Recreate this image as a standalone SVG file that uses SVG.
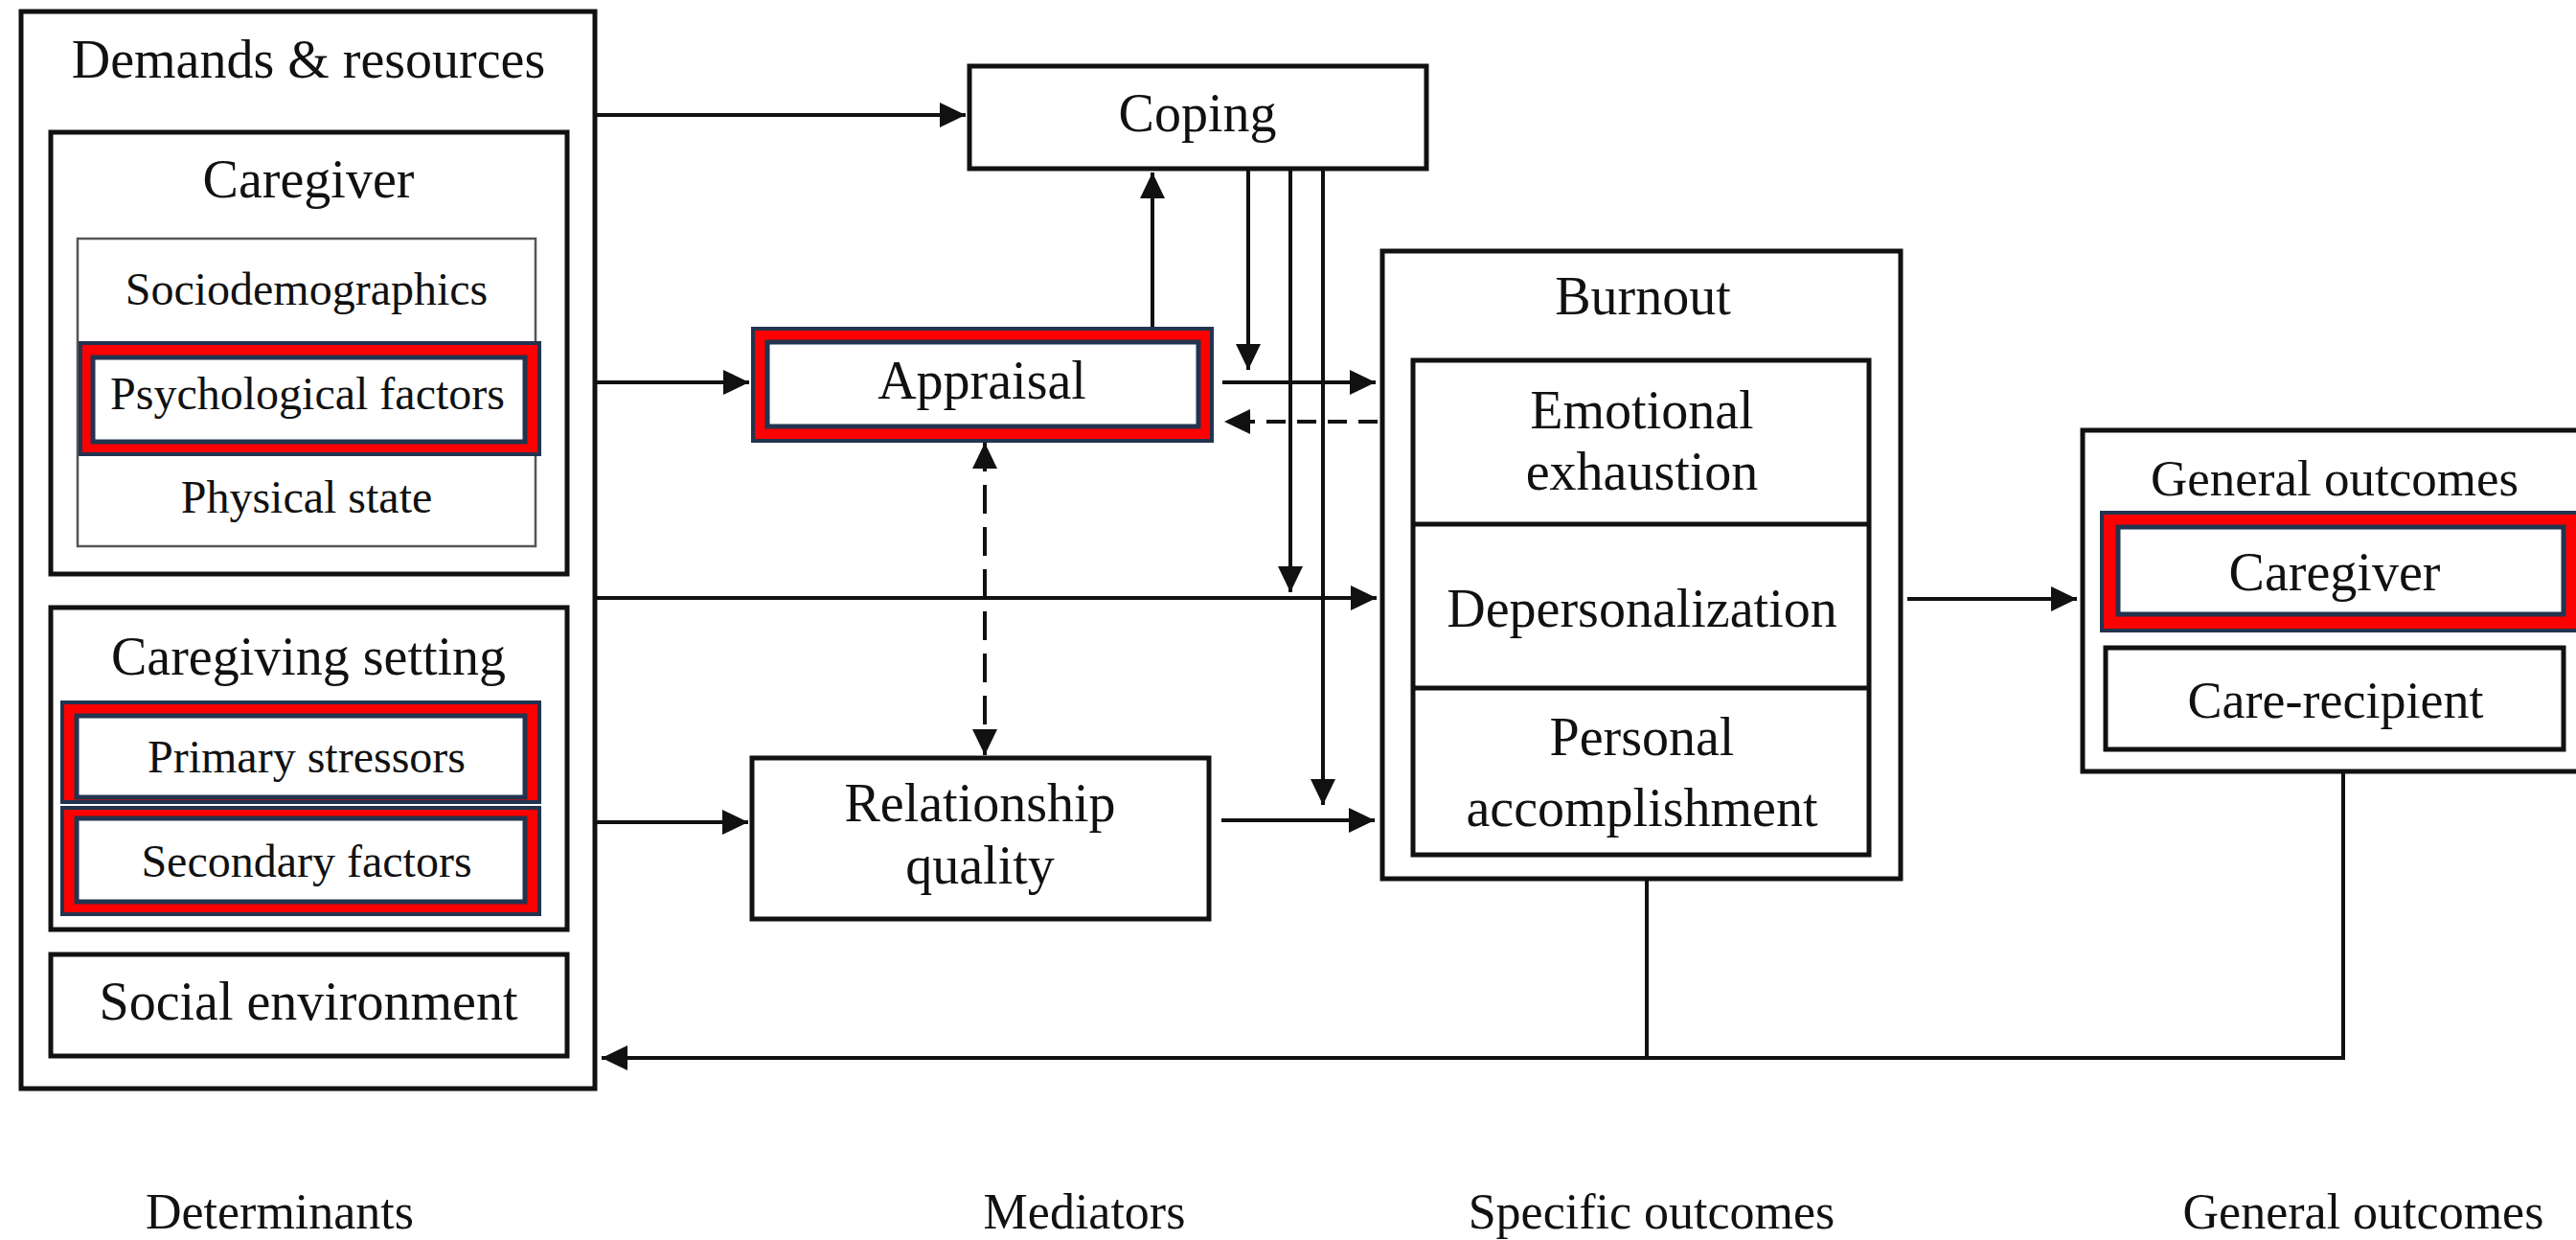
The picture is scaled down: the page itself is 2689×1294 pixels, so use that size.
<svg xmlns="http://www.w3.org/2000/svg" width="2689" height="1294" viewBox="0 0 2689 1294">
<defs>
<style>
.box{fill:#fff;stroke:#111;stroke-width:5}
.thin{fill:#fff;stroke:#555;stroke-width:2.5}
.hlo{fill:#ff0000;stroke:#22344f;stroke-width:4}
.hli{fill:#fff;stroke:#22344f;stroke-width:5}
.ln{fill:none;stroke:#111;stroke-width:4}
.dh{fill:none;stroke:#111;stroke-width:4;stroke-dasharray:20 12}
.dv{fill:none;stroke:#111;stroke-width:4;stroke-dasharray:30 14}
text{font-family:"Liberation Serif","Times New Roman",serif;fill:#111;text-anchor:middle}
.f56{font-size:56px}
.f54{font-size:54px}
.f53{font-size:53px}
.f52{font-size:52px}
.f48{font-size:48px}
</style>
<marker id="ah" markerUnits="userSpaceOnUse" markerWidth="27" markerHeight="26" refX="27" refY="13" orient="auto-start-reverse">
<path d="M0,0 L27,13 L0,26 Z" fill="#111"/>
</marker>
</defs>
<rect width="2689" height="1294" fill="#fff"/>

<g id="demands">
<rect class="box" x="22" y="12" width="599" height="1124"/>
<text class="f56" x="322" y="81">Demands &amp; resources</text>
</g>
<g id="caregiver">
<rect class="box" x="53" y="138" width="539" height="461"/>
<text class="f56" x="322" y="206">Caregiver</text>
</g>
<g id="caregiver-factors">
<rect class="thin" x="81" y="249" width="478" height="321"/>
<text class="f48" x="320" y="318">Sociodemographics</text>
<text class="f48" x="320" y="535">Physical state</text>
</g>
<g id="psychological">
<rect class="hlo" x="84" y="358" width="479" height="116"/>
<rect class="hli" x="97" y="373" width="451" height="88"/>
<text class="f48" x="321" y="427">Psychological factors</text>
</g>
<g id="caregiving-setting">
<rect class="box" x="53" y="634" width="539" height="336"/>
<text class="f56" x="322" y="704">Caregiving setting</text>
</g>
<g id="primary">
<rect class="hlo" x="65" y="733" width="498" height="104"/>
<rect class="hli" x="80" y="747" width="468" height="85"/>
<text class="f48" x="320" y="806">Primary stressors</text>
</g>
<g id="secondary">
<rect class="hlo" x="65" y="843" width="498" height="111"/>
<rect class="hli" x="80" y="854" width="468" height="87"/>
<text class="f48" x="320" y="915">Secondary factors</text>
</g>
<g id="social">
<rect class="box" x="53" y="996" width="539" height="106"/>
<text class="f56" x="322" y="1064">Social environment</text>
</g>

<g id="coping">
<rect class="box" x="1012" y="69" width="477" height="107"/>
<text class="f56" x="1250" y="137">Coping</text>
</g>
<g id="appraisal">
<rect class="hlo" x="786" y="343" width="479" height="117"/>
<rect class="hli" x="801" y="357" width="450" height="88"/>
<text class="f56" x="1025" y="416">Appraisal</text>
</g>
<g id="relationship">
<rect class="box" x="785" y="791" width="477" height="168"/>
<text class="f56" x="1023" y="857">Relationship</text>
<text class="f56" x="1023" y="922">quality</text>
</g>

<g id="burnout">
<rect class="box" x="1443" y="262" width="541" height="655"/>
<text class="f56" x="1715" y="328">Burnout</text>
<rect class="box" x="1475" y="376" width="476" height="516"/>
<line class="box" x1="1475" y1="547" x2="1951" y2="547"/>
<line class="box" x1="1475" y1="718" x2="1951" y2="718"/>
<text class="f56" x="1714" y="447">Emotional</text>
<text class="f56" x="1714" y="511">exhaustion</text>
<text class="f56" x="1714" y="654">Depersonalization</text>
<text class="f56" x="1714" y="788">Personal</text>
<text class="f56" x="1714" y="862">accomplishment</text>
</g>

<g id="general-outcomes">
<rect class="box" x="2174" y="449" width="600" height="356"/>
<text class="f53" x="2437" y="517">General outcomes</text>
</g>
<g id="go-caregiver">
<rect class="hlo" x="2194" y="535" width="520" height="123"/>
<rect class="hli" x="2211" y="550" width="465" height="91"/>
<text class="f56" x="2437" y="616">Caregiver</text>
</g>
<g id="care-recipient">
<rect class="box" x="2198" y="676" width="478" height="106"/>
<text class="f54" x="2438" y="749">Care-recipient</text>
</g>

<g id="connectors">
<path class="ln" d="M623,120 H1008" marker-end="url(#ah)"/>
<path class="ln" d="M623,399 H782" marker-end="url(#ah)"/>
<path class="ln" d="M623,624 H1437" marker-end="url(#ah)"/>
<path class="ln" d="M623,858 H781" marker-end="url(#ah)"/>
<path class="ln" d="M1203,341 V180" marker-end="url(#ah)"/>
<path class="ln" d="M1303,178 V386" marker-end="url(#ah)"/>
<path class="ln" d="M1347,178 V618" marker-end="url(#ah)"/>
<path class="ln" d="M1381,178 V840" marker-end="url(#ah)"/>
<path class="ln" d="M1276,399 H1436" marker-end="url(#ah)"/>
<path class="dh" d="M1438,440 H1278" marker-end="url(#ah)"/>
<path class="ln" d="M1275,856 H1435" marker-end="url(#ah)"/>
<path class="dv" d="M1028,462 V788" marker-start="url(#ah)" marker-end="url(#ah)"/>
<path class="ln" d="M1991,625 H2168" marker-end="url(#ah)"/>
<path class="ln" d="M2446,807 V1104 H628" marker-end="url(#ah)"/>
<path class="ln" d="M1719,919 V1104"/>
</g>

<g id="column-labels">
<text class="f52" x="292" y="1282">Determinants</text>
<text class="f52" x="1132" y="1282">Mediators</text>
<text class="f52" x="1724" y="1282">Specific outcomes</text>
<text class="f52" x="2467" y="1282">General outcomes</text>
</g>
</svg>
